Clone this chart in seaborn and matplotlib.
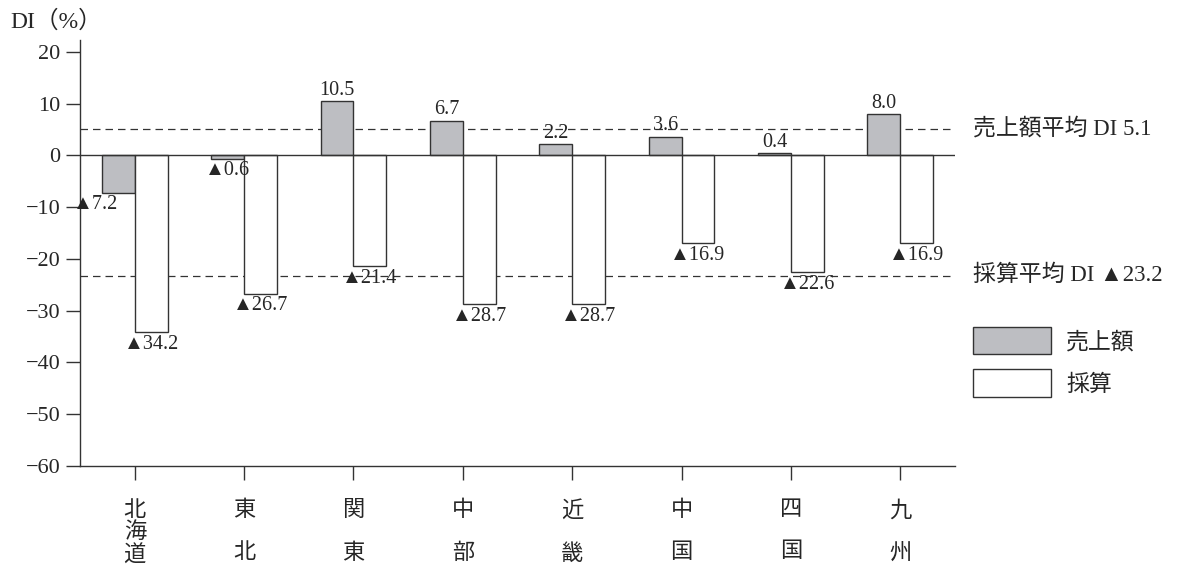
import matplotlib
matplotlib.use("Agg")
import matplotlib.pyplot as plt
import matplotlib.transforms as mtransforms
import pandas as pd
import seaborn as sns

regions = ["北海道", "東北", "関東", "中部", "近畿", "中国", "四国", "九州"]
tick_labels = ["北\n海\n道", "東\n\n北", "関\n\n東", "中\n\n部",
               "近\n\n畿", "中\n\n国", "四\n\n国", "九\n\n州"]
sales_di = [-7.2, -0.6, 10.5, 6.7, 2.2, 3.6, 0.4, 8.0]
profit_di = [-34.2, -26.7, -21.4, -28.7, -28.7, -16.9, -22.6, -16.9]
series_names = ["売上額", "採算"]
avg_sales = 5.1
avg_profit = -23.2

df = pd.DataFrame({
    "region": regions * 2,
    "value": sales_di + profit_di,
    "series": [series_names[0]] * len(regions) + [series_names[1]] * len(regions),
})

sns.set_style("ticks")
plt.rcParams["font.family"] = ["Liberation Serif", "Noto Sans CJK JP", "DejaVu Sans"]
ink = "#333333"

fig = plt.figure(figsize=(11.79, 5.68), dpi=100)
ax = fig.add_axes([0.0679, 0.1796, 0.7421, 0.75])

sns.barplot(data=df, x="region", y="value", hue="series", order=regions,
            hue_order=series_names,
            palette={series_names[0]: "#bdbec2", series_names[1]: "white"},
            saturation=1, width=0.6, edgecolor=ink, linewidth=1, ax=ax)

ax.set_xlim(-0.5, 7.5)
ax.set_ylim(-60, 22.3)
ax.set_yticks(range(-60, 21, 10))
ax.set_xticks(range(len(regions)))
ax.set_xticklabels(tick_labels, linespacing=1.12, fontsize=16)
ax.set_xlabel("")
ax.set_ylabel("")
ax.tick_params(axis="y", length=10, width=1, color=ink, labelsize=16, pad=4)
ax.tick_params(axis="x", length=10, width=1, color=ink, pad=15)
for side in ["top", "right"]:
    ax.spines[side].set_visible(False)
for side in ["left", "bottom"]:
    ax.spines[side].set_color(ink)
    ax.spines[side].set_linewidth(1)

ax.axhline(0, color=ink, lw=1, zorder=3)
ax.axhline(avg_sales, color=ink, lw=0.9, ls=(0, (6, 4)), zorder=0)
ax.axhline(avg_profit, color=ink, lw=0.9, ls=(0, (6, 4)), zorder=0)


def fmt(v):
    return f"{v:.1f}" if v >= 0 else f"▲{abs(v):.1f}"


# value labels
for container, vals in zip(ax.containers, [sales_di, profit_di]):
    for bar, v in zip(container.patches, vals):
        cx = bar.get_x() + bar.get_width() / 2
        if v >= 0:
            ax.annotate(fmt(v), (cx, v), xytext=(0, 1), textcoords="offset points",
                        ha="center", va="bottom", fontsize=14.5)
        else:
            ha = "center"
            if vals is sales_di and v < -5:
                ha = "right"
            ax.annotate(fmt(v), (cx, v), xytext=(0, -2), textcoords="offset points",
                        ha=ha, va="top", fontsize=14.5)

trans = mtransforms.blended_transform_factory(ax.transAxes, ax.transData)
ax.text(1.0206, avg_sales, f"売上額平均 DI {avg_sales}", transform=trans,
        ha="left", va="center", fontsize=16.5)
ax.text(1.0206, avg_profit, f"採算平均 DI ▲{abs(avg_profit)}", transform=trans,
        ha="left", va="center", fontsize=16.5)

fig.text(10 / 1179, 1 - 22 / 568, "DI（%）", ha="left", va="center", fontsize=17)

handles, labels = ax.get_legend_handles_labels()
ax.legend(handles, labels, loc="upper left",
          bbox_to_anchor=(973 / 1179, 1 - 327 / 568), bbox_transform=fig.transFigure,
          frameon=False, fontsize=16.5, borderpad=0, borderaxespad=0,
          handlelength=3.4, handleheight=1.45, labelspacing=0.66,
          handletextpad=0.66)

fig.savefig("out.png", dpi=100)
